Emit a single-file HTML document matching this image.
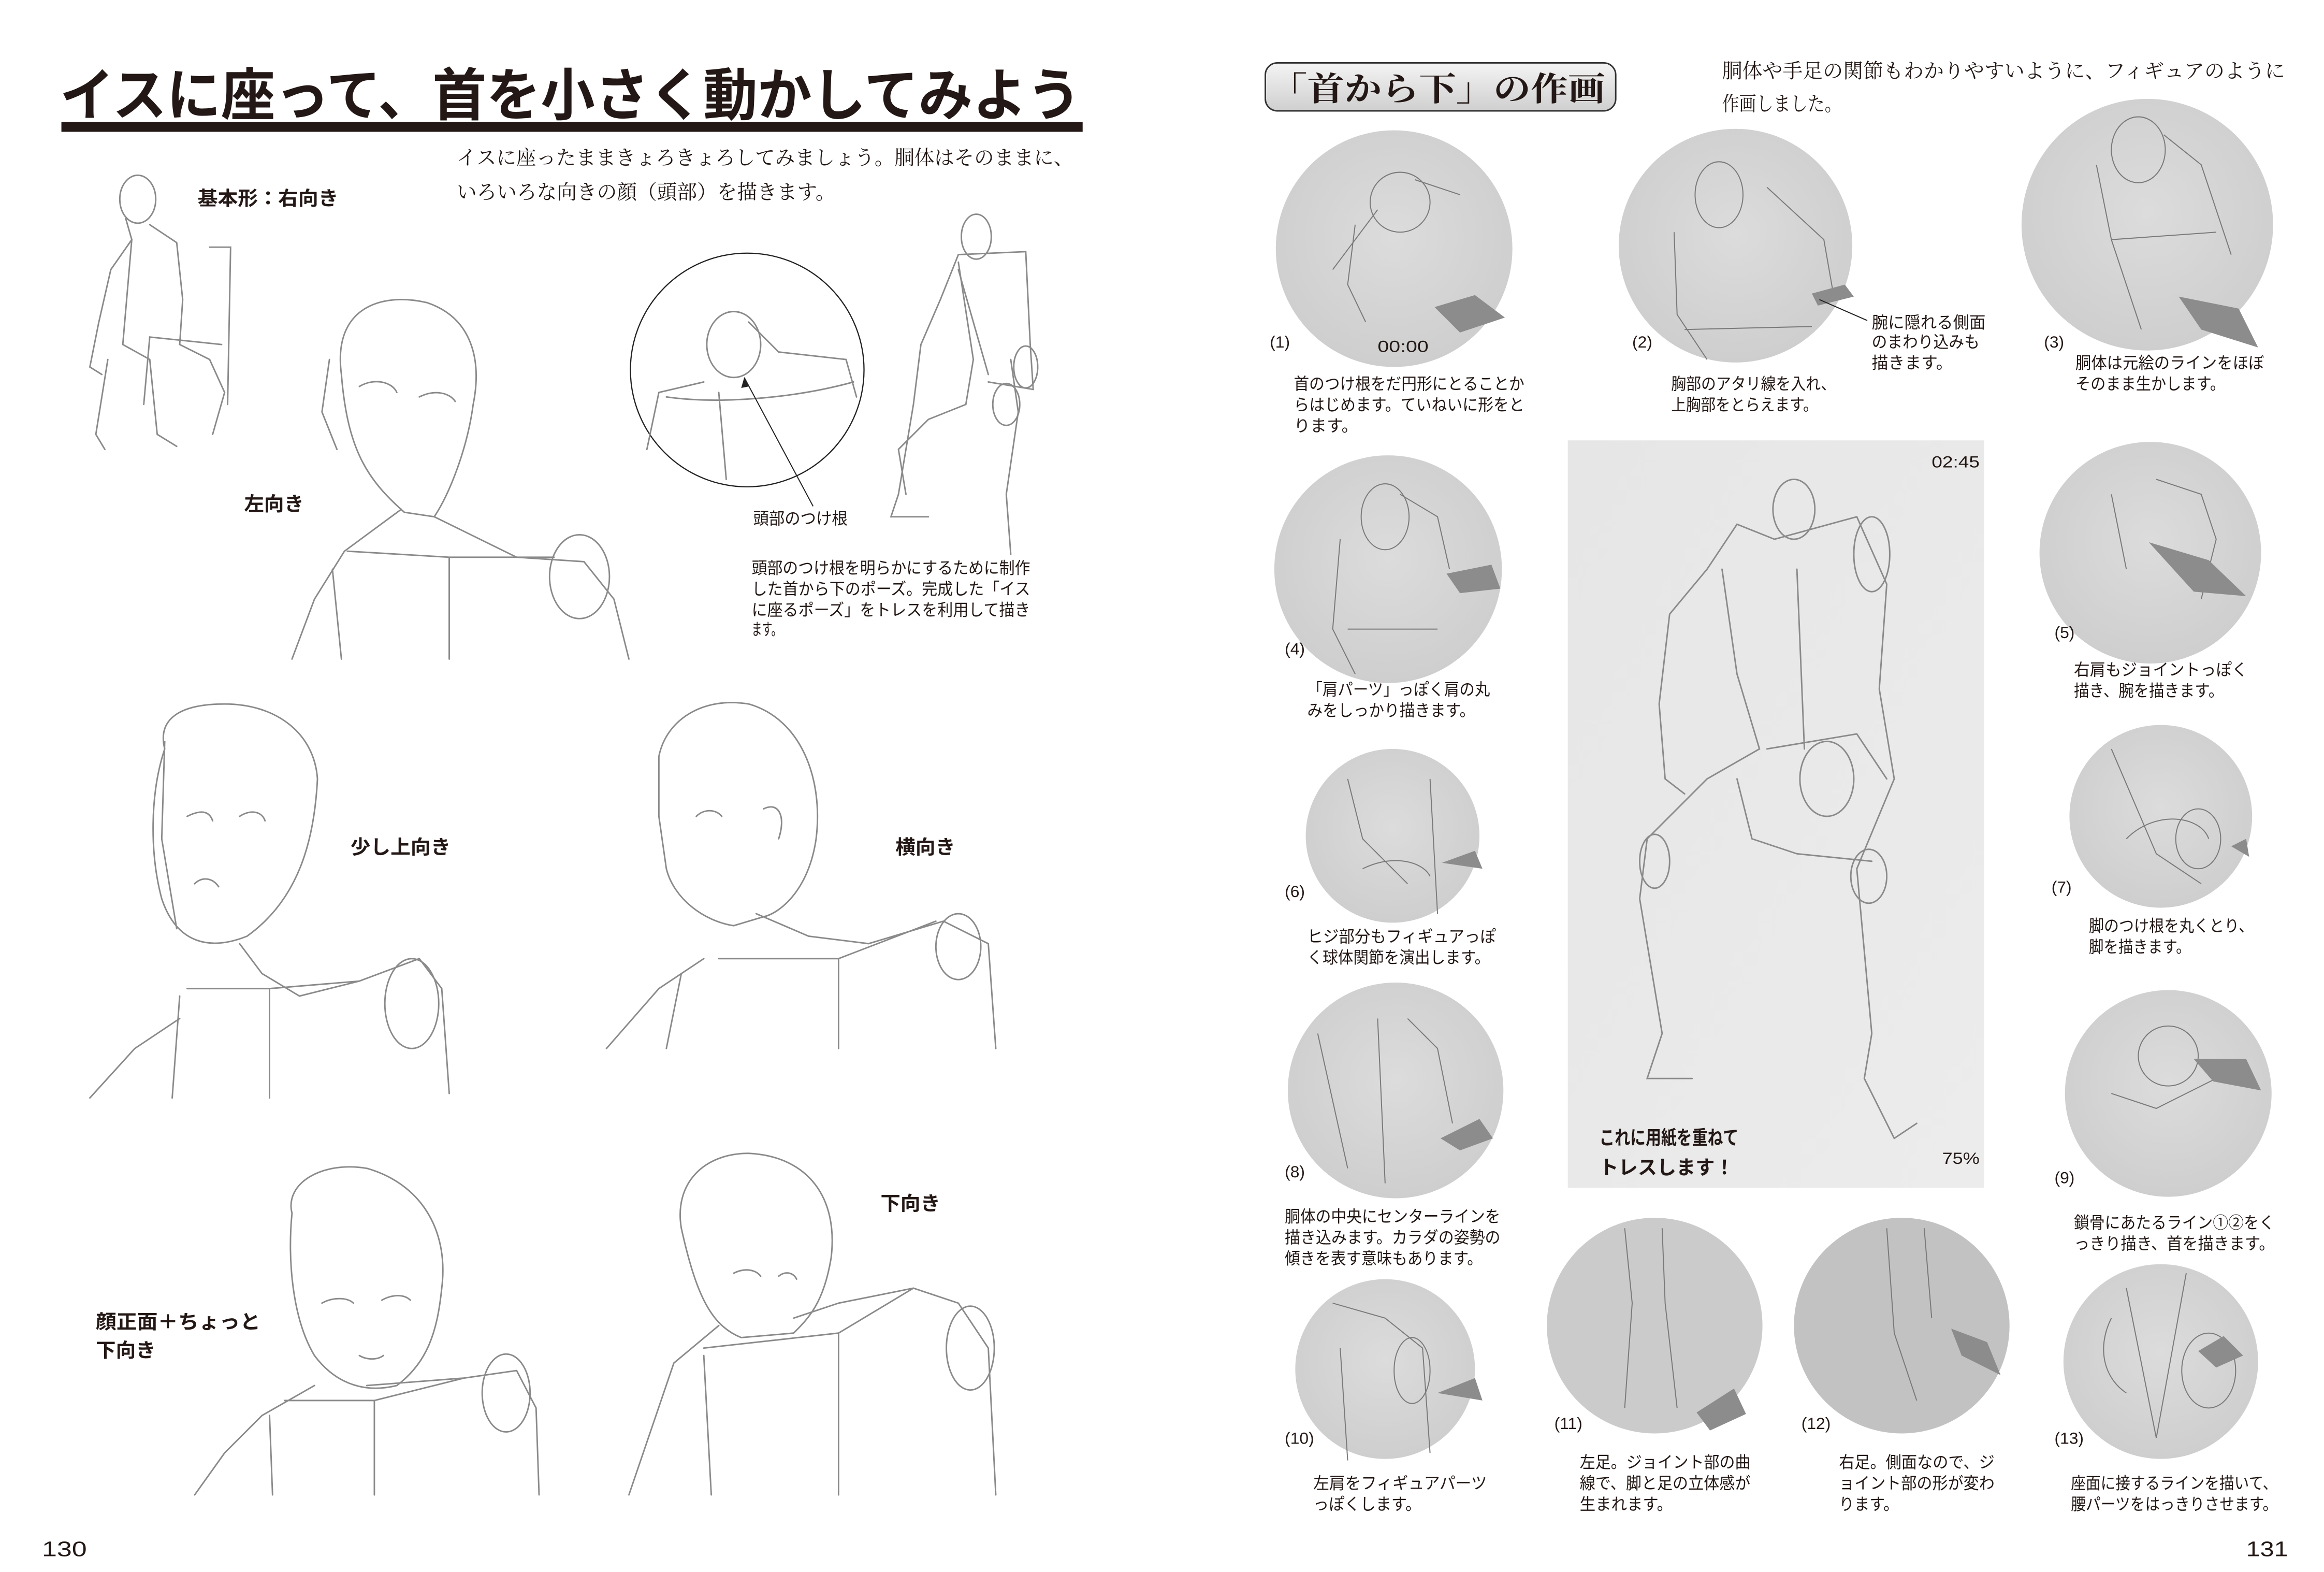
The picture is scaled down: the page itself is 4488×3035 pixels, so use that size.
<!DOCTYPE html>
<html><head><meta charset="utf-8"><style>
html,body{margin:0;padding:0;background:#fff;}
svg{display:block;}
.s{font-family:"Liberation Sans","Noto Sans CJK JP",sans-serif;fill:#231815;}
.r{font-family:"Liberation Serif","Noto Serif CJK SC",serif;fill:#231815;}
.k{fill:none;stroke:#8a8a8a;stroke-width:1;stroke-linecap:round;}
.p{fill:none;stroke:#7a7a7a;stroke-width:0.7;}
</style></head><body>
<svg width="4488" height="3035" viewBox="0 0 1552 1049.5" preserveAspectRatio="none" xmlns="http://www.w3.org/2000/svg">
<defs>
<radialGradient id="g" cx="50%" cy="45%" r="60%"><stop offset="0" stop-color="#dcdcdc"/><stop offset="1" stop-color="#cdcdcd"/></radialGradient>
<linearGradient id="hb" x1="0" y1="0" x2="0" y2="1"><stop offset="0" stop-color="#f4f4f4"/><stop offset="1" stop-color="#cfcfcf"/></linearGradient>
<linearGradient id="bg" x1="0" y1="0" x2="1" y2="1"><stop offset="0" stop-color="#e6e6e6"/><stop offset="1" stop-color="#ececec"/></linearGradient>
</defs>
<rect width="1552" height="1050" fill="#fff"/>

<!-- LEFT PAGE -->
<text class="s" x="40" y="77" font-size="38" font-weight="bold" textLength="682" lengthAdjust="spacingAndGlyphs">イスに座って、首を小さく動かしてみよう</text>
<rect x="41" y="81.5" width="682" height="6.5" fill="#231815"/>
<text class="r" x="305" y="110" font-size="13.5" textLength="412" lengthAdjust="spacingAndGlyphs">イスに座ったままきょろきょろしてみましょう。胴体はそのままに、</text>
<text class="r" x="305" y="133" font-size="13.5" textLength="253" lengthAdjust="spacingAndGlyphs">いろいろな向きの顔（頭部）を描きます。</text>
<text class="s" x="132" y="137" font-size="13" font-weight="bold" textLength="94" lengthAdjust="spacingAndGlyphs">基本形：右向き</text>
<text class="s" x="163" y="341" font-size="13" font-weight="bold" textLength="40" lengthAdjust="spacingAndGlyphs">左向き</text>
<text class="s" x="503" y="350" font-size="11" textLength="63" lengthAdjust="spacingAndGlyphs">頭部のつけ根</text>
<text class="s" x="502" y="383" font-size="11" textLength="186" lengthAdjust="spacingAndGlyphs">頭部のつけ根を明らかにするために制作</text>
<text class="s" x="502" y="397" font-size="11" textLength="186" lengthAdjust="spacingAndGlyphs">した首から下のポーズ。完成した「イス</text>
<text class="s" x="502" y="411" font-size="11" textLength="186" lengthAdjust="spacingAndGlyphs">に座るポーズ」をトレスを利用して描き</text>
<text class="s" x="502" y="424" font-size="11" textLength="20" lengthAdjust="spacingAndGlyphs">ます。</text>
<text class="s" x="234" y="570" font-size="13" font-weight="bold" textLength="67" lengthAdjust="spacingAndGlyphs">少し上向き</text>
<text class="s" x="598" y="570" font-size="13" font-weight="bold" textLength="40" lengthAdjust="spacingAndGlyphs">横向き</text>
<text class="s" x="64" y="887" font-size="13" font-weight="bold" textLength="110" lengthAdjust="spacingAndGlyphs">顔正面＋ちょっと</text>
<text class="s" x="64" y="906" font-size="13" font-weight="bold" textLength="40" lengthAdjust="spacingAndGlyphs">下向き</text>
<text class="s" x="588" y="808" font-size="13" font-weight="bold" textLength="40" lengthAdjust="spacingAndGlyphs">下向き</text>
<text class="s" x="28" y="1039" font-size="14" textLength="30" lengthAdjust="spacingAndGlyphs">130</text>

<g class="k">
<ellipse cx="92" cy="133" rx="12" ry="16"/>
<path d="M84 146 L88 160 L74 180 L66 215 L60 245 L68 250"/>
<path d="M100 150 L118 162 L122 200 L120 230 L140 240 L150 262 L142 290"/>
<path d="M88 160 L82 230 L100 240 L105 290 L118 298"/>
<path d="M72 240 L64 290 L70 300"/>
<path d="M140 165 L154 165 L152 270 M148 230 L100 225 L96 270"/>
</g>
<g class="k">
<path d="M228 250 C222 205 255 195 285 202 C315 212 322 240 316 270 C312 300 300 330 290 345 L270 342 C245 320 232 300 228 250Z"/>
<path d="M220 240 L215 275 L225 300 M240 258 C250 252 262 255 265 262 M280 265 C290 260 300 262 304 268"/>
<path d="M268 340 L230 368 L210 400 L195 440 M290 345 L345 372 L390 375 L410 400 L420 440"/>
<path d="M232 368 L300 372 L370 372 M300 372 L300 440 M222 380 L228 440"/>
<ellipse cx="387" cy="385" rx="20" ry="28"/>
</g>
<circle cx="499" cy="247" r="78" fill="none" stroke="#222" stroke-width="0.8"/>
<g class="k">
<ellipse cx="490" cy="230" rx="18" ry="22"/>
<path d="M500 215 L520 235 L565 240 L572 265 M470 255 L440 262 L432 300 M445 265 C480 270 530 266 570 255 M480 262 L485 320"/>
</g>
<line x1="497" y1="252" x2="543" y2="338" stroke="#222" stroke-width="0.7"/>
<path d="M497 252 L495 259 L500 258Z" fill="#222"/>
<g class="k">
<ellipse cx="652" cy="158" rx="10" ry="15"/>
<path d="M640 170 L685 168 L688 230 L690 260 M640 170 L628 200 L615 230 L610 270 L600 330 L595 345 L620 345"/>
<path d="M640 175 L650 240 L645 270 L620 280 L600 300 L605 330"/>
<path d="M675 240 L680 275 L672 330 L675 370 M660 255 L690 260 M640 180 L660 250"/>
<ellipse cx="685" cy="245" rx="8" ry="14"/><ellipse cx="672" cy="270" rx="9" ry="14"/>
</g>
<g class="k">
<path d="M110 500 C105 480 120 470 150 470 C185 470 210 490 212 520 C210 560 200 600 165 625 C140 635 118 630 108 600 C100 570 100 530 110 500Z"/>
<path d="M110 495 L108 560 L118 620 M125 545 C135 540 140 542 142 548 M160 545 C168 540 175 542 177 548 M130 590 C135 585 142 586 146 592"/>
<path d="M160 630 L175 650 L200 665 L240 655 L280 640 L295 660 L300 730 M120 680 L90 700 L60 733 M125 660 L180 660 L240 655 M180 660 L180 733 M120 665 L115 733"/>
<ellipse cx="275" cy="670" rx="18" ry="30"/>
</g>
<g class="k">
<path d="M440 505 C445 480 470 465 500 470 C535 480 550 520 545 560 C540 595 520 610 510 612 L490 618 C470 615 450 600 445 580 L440 545Z"/>
<path d="M465 545 C470 540 478 540 482 545 M510 540 C520 535 525 545 520 560 M505 610 L540 625 L580 630 L630 615 L660 630 L665 700 M470 640 L440 660 L405 700 M480 640 L560 640 L625 615 M560 640 L560 700 M455 650 L445 700"/>
<ellipse cx="640" cy="632" rx="15" ry="22"/>
</g>
<g class="k">
<path d="M195 810 C190 790 215 775 245 780 C280 790 300 820 295 860 C292 890 285 910 265 925 C245 930 225 925 210 905 C195 880 192 840 195 810Z"/>
<path d="M215 870 C222 866 232 866 236 870 M255 868 C262 864 270 864 274 868 M240 905 C245 908 252 908 256 905"/>
<path d="M245 925 L310 920 L345 915 L358 940 L360 998 M210 925 L175 945 L150 970 L130 998 M190 935 L250 935 L310 920 M250 935 L250 998 M180 945 L182 998"/>
<ellipse cx="338" cy="930" rx="16" ry="26"/>
</g>
<g class="k">
<path d="M455 820 C450 790 470 770 500 770 C540 772 560 800 555 840 C550 870 540 880 530 890 L495 893 C475 885 465 865 455 820Z"/>
<path d="M490 850 C498 846 505 848 508 852 M520 852 C525 848 530 850 532 854 M530 880 L560 870 L610 860 L640 870 L660 900 L665 998"/>
<path d="M480 885 L450 910 L420 998 M470 900 L560 890 L610 860 M560 890 L560 998 M470 905 L475 998"/>
<ellipse cx="648" cy="900" rx="16" ry="28"/>
</g>

<!-- RIGHT PAGE -->
<rect x="845" y="42" width="234" height="32" rx="8" fill="url(#hb)" stroke="#333" stroke-width="1"/>
<text class="r" x="848" y="67" font-size="22" font-weight="bold" textLength="224" lengthAdjust="spacingAndGlyphs">「首から下」の作画</text>
<text class="r" x="1150" y="52" font-size="13.5" textLength="376" lengthAdjust="spacingAndGlyphs">胴体や手足の関節もわかりやすいように、フィギュアのように</text>
<text class="r" x="1150" y="74" font-size="13.5" textLength="80" lengthAdjust="spacingAndGlyphs">作画しました。</text>

<g>
<circle cx="931" cy="166" r="79" fill="url(#g)"/>
<circle cx="1159" cy="164" r="78" fill="url(#g)"/>
<circle cx="1434" cy="150" r="84" fill="url(#g)"/>
<circle cx="927" cy="380" r="76" fill="url(#g)"/>
<circle cx="1436" cy="369" r="74" fill="url(#g)"/>
<circle cx="930" cy="558" r="58" fill="url(#g)"/>
<circle cx="1443" cy="545" r="61" fill="url(#g)"/>
<circle cx="932" cy="728" r="72" fill="url(#g)"/>
<circle cx="1448" cy="730" r="69" fill="url(#g)"/>
<circle cx="925" cy="914" r="60" fill="url(#g)"/>
<circle cx="1105" cy="885" r="72" fill="#cbcbcb"/>
<circle cx="1270" cy="885" r="72" fill="#c2c2c2"/>
<circle cx="1443" cy="909" r="65" fill="url(#g)"/>
</g>
<rect x="1047" y="294" width="278" height="499" fill="url(#bg)"/>
<text class="s" x="1290" y="312" font-size="11" fill="#333" textLength="32" lengthAdjust="spacingAndGlyphs">02:45</text>
<text class="s" x="1297" y="777" font-size="11" textLength="25" lengthAdjust="spacingAndGlyphs">75%</text>
<text class="s" x="1068" y="764" font-size="13" font-weight="bold" textLength="93" lengthAdjust="spacingAndGlyphs">これに用紙を重ねて</text>
<text class="s" x="1068" y="784" font-size="13" font-weight="bold" textLength="90" lengthAdjust="spacingAndGlyphs">トレスします！</text>
<g class="k">
<ellipse cx="1198" cy="340" rx="14" ry="20"/>
<path d="M1185 360 L1160 350 L1140 380 L1115 410 L1108 470 L1112 520 L1125 530 M1185 360 L1240 345 L1260 390 L1255 460 L1265 520 L1240 580"/>
<path d="M1150 380 L1160 450 L1175 500 L1140 520 L1100 560 L1095 600 L1110 690 L1100 720 L1130 720 M1200 380 L1205 500 M1180 500 L1240 490 L1260 520"/>
<path d="M1240 580 L1250 690 L1245 720 L1265 760 L1280 750 M1160 520 L1170 560 L1200 570 L1250 575"/>
<ellipse cx="1250" cy="370" rx="12" ry="25"/><ellipse cx="1220" cy="520" rx="18" ry="25"/><ellipse cx="1248" cy="585" rx="12" ry="18"/><ellipse cx="1105" cy="575" rx="10" ry="18"/>
</g>

<g class="p">
<ellipse cx="935" cy="135" rx="20" ry="20"/><path d="M905 150 L900 190 L912 215 M945 120 L975 130 M890 180 L920 140"/>
<ellipse cx="1148" cy="130" rx="16" ry="22"/><path d="M1118 155 L1120 210 L1140 240 M1180 125 L1218 160 L1225 200 M1125 220 L1210 218"/>
<ellipse cx="1428" cy="100" rx="18" ry="22"/><path d="M1400 110 L1410 160 L1430 220 M1445 90 L1470 110 L1490 170 M1410 160 L1480 155"/>
<ellipse cx="925" cy="345" rx="16" ry="22"/><path d="M895 360 L890 420 L905 450 M935 330 L960 345 L968 380 M900 420 L960 420"/>
<path d="M1410 330 L1420 380 M1440 320 L1470 330 L1480 360 L1470 400"/>
<path d="M900 520 L910 560 L940 590 M955 520 L960 610 M910 580 C930 570 950 575 955 585"/>
<path d="M1410 500 L1440 570 L1470 590 M1420 560 C1440 540 1470 545 1475 560"/><ellipse cx="1468" cy="560" rx="15" ry="20"/>
<path d="M880 690 L900 780 M920 680 L925 790 M940 680 L960 700 L970 750"/>
<ellipse cx="1448" cy="705" rx="20" ry="20"/><path d="M1410 730 L1440 740 L1480 720"/>
<path d="M890 870 L925 880 L950 900 L955 970 M895 900 L900 975"/><ellipse cx="943" cy="915" rx="12" ry="22"/>
<path d="M1085 820 L1090 870 L1085 940 M1110 820 L1112 870 L1120 940"/>
<path d="M1260 820 L1265 890 L1280 935 M1285 820 L1290 880"/>
<path d="M1420 860 L1440 960 M1460 850 L1440 960 M1410 880 C1400 900 1405 920 1420 930"/><ellipse cx="1475" cy="915" rx="18" ry="25"/>
</g>
<g fill="#8c8c8c">
<path d="M958 205 L985 197 L1005 212 L975 222Z"/>
<path d="M1210 196 L1232 190 L1238 198 L1214 204Z"/>
<path d="M1455 198 L1495 206 L1508 232 L1470 220Z"/>
<path d="M966 383 L996 377 L1002 393 L975 396Z"/>
<path d="M1435 362 L1475 374 L1500 398 L1465 395Z"/>
<path d="M963 576 L985 568 L990 580Z"/>
<path d="M1490 565 L1500 560 L1502 572Z"/>
<path d="M962 760 L988 747 L997 760 L975 768Z"/>
<path d="M1465 707 L1500 707 L1510 728 L1478 722Z"/>
<path d="M960 930 L985 920 L990 935Z"/>
<path d="M1133 943 L1158 927 L1166 944 L1142 955Z"/>
<path d="M1303 887 L1327 896 L1336 918 L1310 905Z"/>
<path d="M1468 902 L1485 892 L1498 905 L1480 913Z"/>
</g>
<text class="s" x="920" y="235" font-size="11" fill="#222" textLength="34" lengthAdjust="spacingAndGlyphs">00:00</text>

<g class="s" font-size="11">
<text x="848" y="232">(1)</text>
<text x="1090" y="232">(2)</text>
<text x="1365" y="232">(3)</text>
<text x="858" y="437">(4)</text>
<text x="1372" y="426">(5)</text>
<text x="858" y="599">(6)</text>
<text x="1370" y="596">(7)</text>
<text x="858" y="786">(8)</text>
<text x="1372" y="790">(9)</text>
<text x="858" y="964">(10)</text>
<text x="1038" y="954">(11)</text>
<text x="1203" y="954">(12)</text>
<text x="1372" y="964">(13)</text>
</g>
<g class="s" font-size="11">
<text x="864" y="260" textLength="154" lengthAdjust="spacingAndGlyphs">首のつけ根をだ円形にとることか</text>
<text x="864" y="274" textLength="154" lengthAdjust="spacingAndGlyphs">らはじめます。ていねいに形をと</text>
<text x="864" y="288">ります。</text>
<text x="1116" y="260" textLength="110" lengthAdjust="spacingAndGlyphs">胸部のアタリ線を入れ、</text>
<text x="1116" y="274" textLength="98" lengthAdjust="spacingAndGlyphs">上胸部をとらえます。</text>
<text x="1250" y="219" textLength="76" lengthAdjust="spacingAndGlyphs">腕に隠れる側面</text>
<text x="1250" y="232" textLength="72" lengthAdjust="spacingAndGlyphs">のまわり込みも</text>
<text x="1250" y="246">描きます。</text>
<text x="1386" y="246" textLength="126" lengthAdjust="spacingAndGlyphs">胴体は元絵のラインをほぼ</text>
<text x="1386" y="260" textLength="100" lengthAdjust="spacingAndGlyphs">そのまま生かします。</text>
<text x="873" y="464" textLength="122" lengthAdjust="spacingAndGlyphs">「肩パーツ」っぽく肩の丸</text>
<text x="873" y="478" textLength="112" lengthAdjust="spacingAndGlyphs">みをしっかり描きます。</text>
<text x="1385" y="451" textLength="116" lengthAdjust="spacingAndGlyphs">右肩もジョイントっぽく</text>
<text x="1385" y="465" textLength="100" lengthAdjust="spacingAndGlyphs">描き、腕を描きます。</text>
<text x="873" y="629" textLength="126" lengthAdjust="spacingAndGlyphs">ヒジ部分もフィギュアっぽ</text>
<text x="873" y="643" textLength="122" lengthAdjust="spacingAndGlyphs">く球体関節を演出します。</text>
<text x="1395" y="622" textLength="110" lengthAdjust="spacingAndGlyphs">脚のつけ根を丸くとり、</text>
<text x="1395" y="636" textLength="68" lengthAdjust="spacingAndGlyphs">脚を描きます。</text>
<text x="858" y="816" textLength="144" lengthAdjust="spacingAndGlyphs">胴体の中央にセンターラインを</text>
<text x="858" y="830" textLength="144" lengthAdjust="spacingAndGlyphs">描き込みます。カラダの姿勢の</text>
<text x="858" y="844" textLength="132" lengthAdjust="spacingAndGlyphs">傾きを表す意味もあります。</text>
<text x="1385" y="820" textLength="134" lengthAdjust="spacingAndGlyphs">鎖骨にあたるライン①②をく</text>
<text x="1385" y="834" textLength="134" lengthAdjust="spacingAndGlyphs">っきり描き、首を描きます。</text>
<text x="877" y="994" textLength="116" lengthAdjust="spacingAndGlyphs">左肩をフィギュアパーツ</text>
<text x="877" y="1008" textLength="72" lengthAdjust="spacingAndGlyphs">っぽくします。</text>
<text x="1055" y="980" textLength="114" lengthAdjust="spacingAndGlyphs">左足。ジョイント部の曲</text>
<text x="1055" y="994" textLength="114" lengthAdjust="spacingAndGlyphs">線で、脚と足の立体感が</text>
<text x="1055" y="1008" textLength="62" lengthAdjust="spacingAndGlyphs">生まれます。</text>
<text x="1228" y="980" textLength="104" lengthAdjust="spacingAndGlyphs">右足。側面なので、ジ</text>
<text x="1228" y="994" textLength="104" lengthAdjust="spacingAndGlyphs">ョイント部の形が変わ</text>
<text x="1228" y="1008" textLength="40" lengthAdjust="spacingAndGlyphs">ります。</text>
<text x="1383" y="994" textLength="138" lengthAdjust="spacingAndGlyphs">座面に接するラインを描いて、</text>
<text x="1383" y="1008" textLength="138" lengthAdjust="spacingAndGlyphs">腰パーツをはっきりさせます。</text>
</g>
<line x1="1215" y1="200" x2="1247" y2="214" stroke="#222" stroke-width="0.7"/>
<text class="s" x="1500" y="1039" font-size="14" textLength="28" lengthAdjust="spacingAndGlyphs">131</text>
</svg>
</body></html>
